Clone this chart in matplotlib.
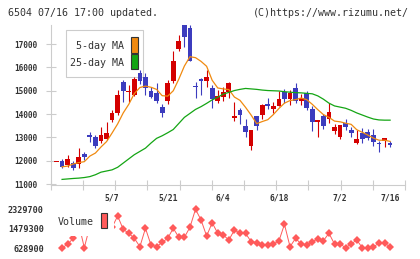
import numpy as np
import matplotlib
matplotlib.use("Agg")
import matplotlib.pyplot as plt
from matplotlib.patches import Rectangle

# daily candles, index 0..60 (last = 7/16)
opens = [11930, 11990, 11810, 11890, 11840, 12290, 13090, 13030, 12860, 12930,
         13740, 14030, 15360, 14950, 14840, 15770, 15600, 15000, 14910, 14310,
         14570, 15410, 16810, 17810, 17710, 15190, 15470, 15410, 15140, 14570,
         14740, 14960, 13850, 14170, 13490, 12640, 13910, 13960, 14430, 14220,
         14340, 14960, 14630, 15140, 14560, 14910, 14210, 13680, 13910, 13790,
         13290, 13030, 13630, 13310, 12770, 13170, 13240, 13100, 12750, 12860,
         12740]
closes = [11930, 11740, 12070, 11710, 12140, 12160, 13030, 12640, 13090, 13170,
          14060, 14810, 15000, 14970, 15490, 15410, 15140, 14740, 14570, 14060,
          15340, 16260, 17130, 17290, 16290, 15150, 15440, 15570, 14640, 14770,
          14960, 15340, 13910, 13960, 13240, 13310, 13500, 14390, 14350, 14340,
          14640, 14640, 14910, 14570, 14690, 14270, 13670, 13740, 13500, 14100,
          13460, 13530, 13460, 13200, 12930, 12930, 12960, 12810, 12730, 12990,
          12680]
highs = [11930, 12060, 12240, 11990, 12530, 12370, 13220, 13090, 13430, 13670,
         14170, 15030, 15460, 15250, 15600, 15910, 15770, 15170, 15340, 14430,
         15460, 16700, 17390, 17850, 17820, 15390, 15530, 15910, 15240, 15030,
         15170, 15390, 14530, 14270, 13790, 13320, 13920, 14430, 14670, 14500,
         14990, 15070, 15030, 15340, 14860, 14990, 14340, 13750, 14000, 14490,
         13570, 13530, 13790, 13430, 13310, 13390, 13340, 13340, 12840, 12990,
         12840]
lows = [11930, 11710, 11740, 11600, 11670, 12030, 12810, 12530, 12740, 12890,
        13670, 13960, 14530, 14530, 14790, 15310, 14810, 14670, 14490, 13860,
        14430, 15340, 16710, 16890, 16290, 14670, 14810, 15170, 14240, 14460,
        14570, 14700, 13710, 13560, 13030, 12460, 13310, 13790, 14200, 14060,
        14340, 14490, 14390, 14490, 14390, 14170, 13290, 13000, 13370, 13630,
        13140, 12930, 13310, 13030, 12710, 12770, 12890, 12630, 12390, 12570,
        12600]

nan = np.nan
ma5 = [nan, 11740, 11770, 11860, 11920, 11960, 12200, 12330, 12590, 12820,
       13190, 13580, 14050, 14420, 14880, 15140, 15200, 15150, 15060, 14790,
       14770, 15000, 15500, 16060, 16460, 16420, 16260, 16050, 15450, 15120,
       15080, 15050, 14730, 14590, 14290, 13960, 13590, 13680, 13760, 13980,
       14240, 14470, 14580, 14620, 14690, 14620, 14420, 14190, 13980, 13860,
       13700, 13670, 13610, 13560, 13330, 13220, 13100, 12970, 12880, 12880,
       12830]
ma25 = [nan, 11200, 11220, 11240, 11255, 11280, 11320, 11400, 11510, 11560,
        11610, 11720, 11900, 12080, 12260, 12400, 12540, 12760, 12960, 13070,
        13200, 13340, 13600, 13860, 14030, 14200, 14320, 14460, 14610, 14720,
        14860, 14930, 15010, 15060, 15100, 15080, 15060, 15030, 15010, 15000,
        14990, 14960, 14940, 14920, 14910, 14890, 14870, 14780, 14640, 14470,
        14350, 14300, 14250, 14160, 14050, 13960, 13870, 13790, 13750, 13740,
        13740]
volume = [nan, 650000, 803000, 1065000, 1700000, 655000, 1600000, 1400000, 1500000, 1350000,
          1550000, 2037000, 1457000, 1283000, 1065000, 699000, 1501000, 773000, 699000, 890000,
          1065000, 1501000, 1108000, 1108000, 1545000, 2329700, 1863000, 1165000, 1745000, 1283000,
          1209000, 991000, 1427000, 1283000, 1283000, 919000, 875000, 773000, 773000, 817000,
          947000, 1675000, 699000, 1065000, 817000, 773000, 919000, 1034000, 960000, 1283000,
          817000, 817000, 655000, 817000, 991000, 655000, 628900, 699000, 847000, 847000,
          699000]

date_labels = ['5/7', '5/21', '6/4', '6/18', '7/2', '7/16']
date_idx = [10, 20, 30, 40, 51, 60]
price_ticks = [11000, 12000, 13000, 14000, 15000, 16000, 17000]
vol_ticks = [628900, 1479300, 2329700]

W, H = 420, 259
RED, BLUE = '#d40000', '#3c3cbe'
ORANGE, GREEN, VOLC = '#f08a10', '#14a514', '#ff5a5a'
GRID = '#cccccc'
TXT = '#333333'
MONO = 'DejaVu Sans Mono'

fig = plt.figure(figsize=(W / 100, H / 100), dpi=100)

def fbox(x0, y0, x1, y1):
    # pixel box -> figure fraction [left, bottom, width, height]
    return [x0 / W, 1 - y1 / H, (x1 - x0) / W, (y1 - y0) / H]

px_left, px_right = 50.7, 405.0
x0 = (px_left - 56.5) / 5.56
x1 = (px_right - 56.5) / 5.56

ax = fig.add_axes(fbox(px_left, 25, px_right, 185))
ax.set_xlim(x0, x1)
ax.set_ylim(10960, 17820)

idx = np.arange(len(closes))
o = np.array(opens); c = np.array(closes)
colors = [RED if cc >= oo else BLUE for oo, cc in zip(o, c)]
ax.vlines(idx, lows, highs, colors=colors, linewidth=0.8, zorder=3)
body_lo = np.minimum(o, c)
body_h = np.maximum(np.abs(c - o), 45)
ax.bar(idx, body_h, bottom=body_lo, width=0.85, color=colors, linewidth=0, zorder=3)

ax.plot(idx, ma5, color=ORANGE, lw=0.9, zorder=4)
ax.plot(idx, ma25, color=GREEN, lw=0.9, zorder=4)

for s in ['top', 'right']:
    ax.spines[s].set_visible(False)
for s in ['left', 'bottom']:
    ax.spines[s].set_color(GRID)
    ax.spines[s].set_linewidth(0.8)

ax.set_yticks(price_ticks)
ax.set_yticklabels([str(t) for t in price_ticks], fontsize=5.6, fontweight='bold',
                   color=TXT, family=MONO)
ax.set_xticks(np.linspace(x0, x1, 12))
ax.set_xticklabels([])
ax.tick_params(axis='both', direction='inout', length=6.5, width=0.8, color=GRID)
ax.tick_params(axis='y', pad=6.5)

for lab, i in zip(date_labels, date_idx):
    ax.text(i, -0.081, lab, transform=ax.get_xaxis_transform(), ha='center',
            va='center', fontsize=5.8, fontweight='bold', color=TXT, family=MONO)

# price legend (behind candles)
lx0, ly0, lx1, ly1 = 65.7, 30, 143.3, 76.7
ax.add_patch(Rectangle((lx0 / W, 1 - ly1 / H), (lx1 - lx0) / W, (ly1 - ly0) / H,
                       transform=fig.transFigure, facecolor='white', edgecolor=GRID,
                       lw=0.8, zorder=1, clip_on=False))
fig.text(124.5 / W, 1 - 46 / H, '5-day MA', ha='right', va='center', fontsize=7.2,
         color=TXT, family=MONO)
fig.text(124.5 / W, 1 - 63.3 / H, '25-day MA', ha='right', va='center', fontsize=7.2,
         color=TXT, family=MONO)
for (ya, yb), col in [((36.7, 52.7), ORANGE), ((54.3, 69.3), GREEN)]:
    fig.patches.append(Rectangle((131 / W, 1 - yb / H), 6.7 / W, (yb - ya) / H,
                                 transform=fig.transFigure, facecolor=col,
                                 edgecolor=TXT, lw=0.8, zorder=5))

# volume panel
vy_top, vy_bot = 205.0, 252.0
ppu = 39.0 / (2329700 - 628900)
vmax = 2329700 + (209.3 - vy_top) / ppu
vmin = 628900 - (vy_bot - 248.3) / ppu
axv = fig.add_axes(fbox(px_left, vy_top, px_right, vy_bot))
axv.set_xlim(x0, x1)
axv.set_ylim(vmin, vmax)
axv.plot(idx, volume, color=VOLC, lw=0.7, marker='D', markersize=3.6,
         markeredgewidth=0, zorder=3, clip_on=False)
for s in axv.spines.values():
    s.set_visible(False)
axv.set_xticks([])
axv.set_yticks(vol_ticks)
axv.set_yticklabels([str(t) for t in vol_ticks], fontsize=6.1, fontweight='bold',
                    color=TXT, family=MONO)
axv.tick_params(axis='y', length=0, pad=5.0)
axv.patch.set_alpha(0)

fig.patches.append(Rectangle((56 / W, 1 - 236 / H), 58 / W, 33 / H,
                             transform=fig.transFigure, facecolor='white',
                             edgecolor='none', zorder=4))
fig.text(58 / W, 1 - 222.3 / H, 'Volume', ha='left', va='center', fontsize=7.2,
         color=TXT, family=MONO, zorder=6)
fig.patches.append(Rectangle((101 / W, 1 - 228.3 / H), 6.3 / W, 15.6 / H,
                             transform=fig.transFigure, facecolor=VOLC,
                             edgecolor=TXT, lw=0.8, zorder=6))

# header
fig.text(8 / W, 1 - 12.7 / H, '6504 07/16 17:00 updated.', ha='left', va='center',
         fontsize=7.2, color=TXT, family=MONO)
fig.text(409 / W, 1 - 12.7 / H, '(C)https://www.rizumu.net/', ha='right',
         va='center', fontsize=7.2, color=TXT, family=MONO)

fig.savefig('out.png', dpi=100)
